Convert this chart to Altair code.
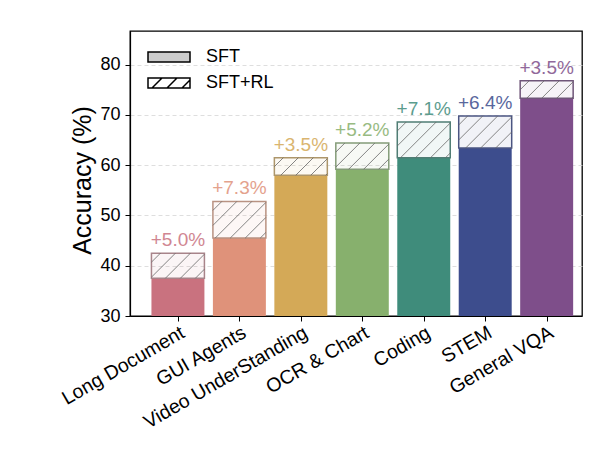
import altair as alt
import pandas as pd

categories = ["Long Document", "GUI Agents", "Video UnderStanding", "OCR & Chart",
              "Coding", "STEM", "General VQA"]
sft = [37.5, 45.5, 58.0, 59.2, 61.5, 63.4, 73.3]
gain = [5.0, 7.3, 3.5, 5.2, 7.1, 6.4, 3.5]
legend_kinds = ["SFT", "SFT+RL"]
y_ticks = [30, 40, 50, 60, 70, 80]

bar_colors = ["#c9727f", "#df927a", "#d4a957", "#87b06d", "#3f8c7b", "#3d4d8d", "#7e4e8a"]
edge_colors = ["#a8848a", "#b99282", "#ad966b", "#849c78", "#4f7d74", "#4b5582", "#6f5679"]

W, H = 452, 285
X_DOM = [-0.78, 6.575]
Y_DOM = [30, 86.7]
BAR_W = 0.862
HATCH_STEP = 15  # px between hatch lines

df = pd.DataFrame({"cat": categories, "idx": range(len(categories)),
                   "sft": sft, "gain": gain,
                   "color": bar_colors, "edge": edge_colors})
df["total"] = df["sft"] + df["gain"]
df["label"] = ["+%.1f%%" % g for g in gain]
df["lo"] = df["idx"] - BAR_W / 2
df["hi"] = df["idx"] + BAR_W / 2

# hatch segments (45 deg on screen) inside each SFT+RL box
sx = W / (X_DOM[1] - X_DOM[0])
sy = H / (Y_DOM[1] - Y_DOM[0])
segs = []
for r in df.itertuples():
    bw = BAR_W * sx
    bh = (r.total - r.sft) * sy
    c = -bh + HATCH_STEP * 0.6
    while c < bw:
        a = max(0.0, c)
        b = min(bw, bh + c)
        if b > a:
            segs.append({"x": r.lo + a / sx, "x2": r.lo + b / sx,
                         "y": r.sft + (a - c) / sy, "y2": r.sft + (b - c) / sy})
        c += HATCH_STEP
hatch = pd.DataFrame(segs)

label_expr = "[" + ",".join("'%s'" % c for c in categories) + "][datum.value]"

x_scale = alt.Scale(domain=X_DOM, nice=False, zero=False)
y_scale = alt.Scale(domain=Y_DOM, nice=False, zero=False)

base = alt.Chart(df)

bars = base.mark_bar().encode(
    x=alt.X("lo:Q", scale=x_scale,
            axis=alt.Axis(values=list(range(len(categories))), labelExpr=label_expr,
                          labelAngle=-30, labelAlign="right", labelBaseline="top",
                          labelFontSize=19.5, labelPadding=2, tickSize=5, grid=False,
                          labelOverlap=False, labelBound=False, labelLimit=0, title=None)),
    x2="hi:Q",
    y=alt.Y("sft:Q", scale=y_scale,
            axis=alt.Axis(values=y_ticks, title="Accuracy (%)", titleFontSize=25,
                          titleFontWeight="normal", titlePadding=4, titleY=149,
                          labelFontSize=18, labelPadding=5, tickSize=5,
                          grid=True, gridDash=[4, 3], gridColor="#d5d5d5", gridWidth=0.8)),
    y2=alt.datum(Y_DOM[0]),
    fill=alt.Fill("color:N", scale=None),
)

tops = base.mark_rect(fillOpacity=0.07, strokeWidth=1.5).encode(
    x="lo:Q", x2="hi:Q", y="sft:Q", y2="total:Q",
    fill=alt.Fill("color:N", scale=None),
    stroke=alt.Stroke("edge:N", scale=None),
)

lines = alt.Chart(hatch).mark_rule(color="#666666", strokeWidth=1, opacity=0.8).encode(
    x="x:Q", x2="x2:Q", y="y:Q", y2="y2:Q"
)

labels = base.mark_text(fontSize=19, dy=-7, baseline="alphabetic", opacity=0.85).encode(
    x="idx:Q", y="total:Q", text="label:N",
    color=alt.Color("color:N", scale=None),
)

rect_path = "M-2.1,-0.5H2.1V0.5H-2.1Z"
hatch_path = rect_path + "M-1.7,0.5L-0.7,-0.5M-0.2,0.5L0.8,-0.5M1.3,0.5L2.1,-0.3"
leg = alt.Legend(title=None, orient="none", legendX=28, legendY=15, padding=0,
                 symbolSize=400, symbolStrokeColor="black", symbolStrokeWidth=1.5,
                 labelFontSize=18, labelOffset=26, rowPadding=6, labelColor="black")
legend_df = pd.DataFrame({"kind": legend_kinds})
legend_pts = alt.Chart(legend_df).mark_point(filled=True, stroke="black", strokeWidth=1.5,
                                             clip=True, opacity=1).encode(
    x=alt.value(-1000), y=alt.value(-1000),
    shape=alt.Shape("kind:N", scale=alt.Scale(domain=legend_kinds, range=[rect_path, hatch_path]),
                    legend=leg),
    fill=alt.Fill("kind:N", scale=alt.Scale(domain=legend_kinds, range=["#cccccc", "white"]),
                  legend=leg),
)

chart = alt.layer(bars, tops, lines, labels, legend_pts).properties(
    width=W, height=H,
    padding={"left": 122, "top": 23, "right": 2, "bottom": 122},
    autosize=alt.AutoSizeParams(type="none"),
).configure(font="Liberation Sans").configure_view(
    stroke="black", strokeWidth=1.3
).configure_axis(
    domainColor="black", domainWidth=1.2, tickColor="black", labelColor="black",
    titleColor="black"
)

chart.save("out.html", embed_options={"renderer": "svg", "actions": False})
